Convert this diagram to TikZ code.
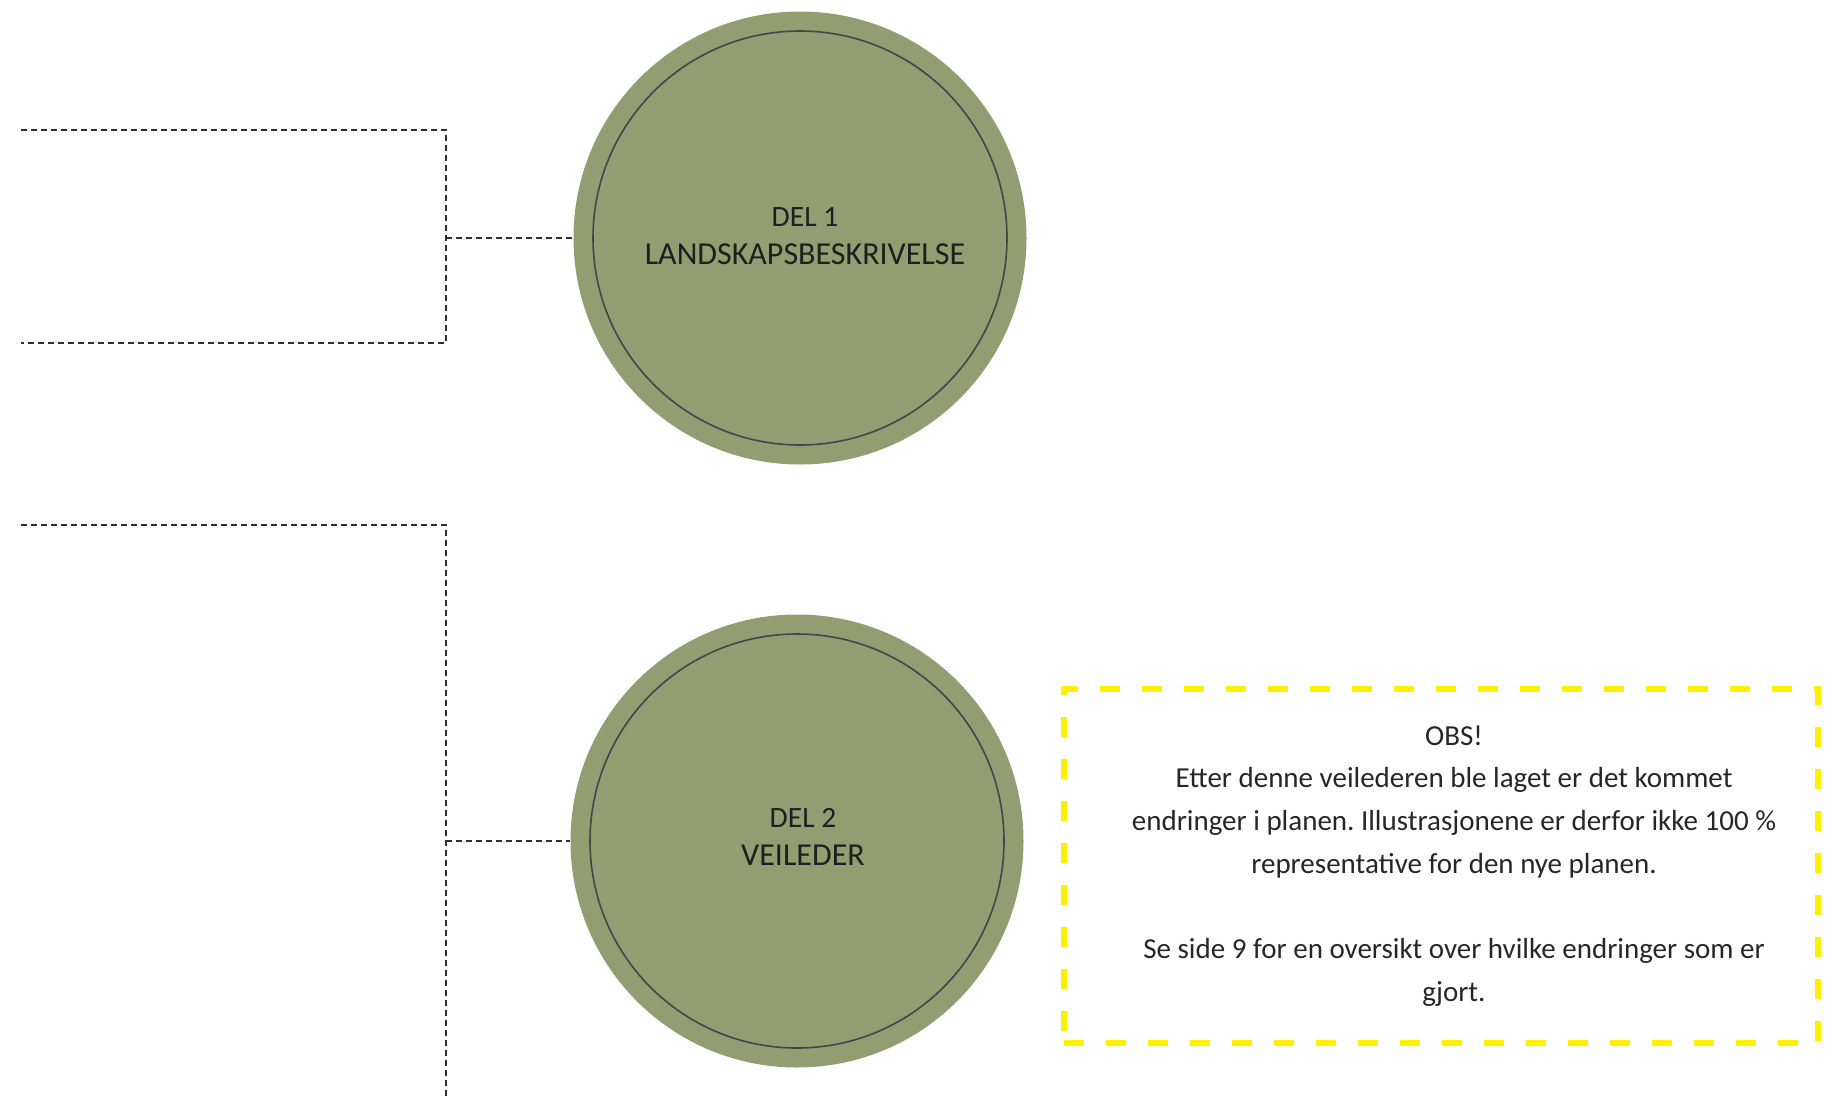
\documentclass[tikz,border=0pt]{standalone}
\usepackage{fontspec}
\setmainfont{Carlito}
\usetikzlibrary{positioning}

\definecolor{leafgreen}{HTML}{929E71}
\definecolor{ringgray}{HTML}{42464C}
\definecolor{guidegray}{HTML}{2E2E2E}
\definecolor{obsyellow}{RGB}{255,240,0}

\begin{document}
\frenchspacing
\begin{tikzpicture}[
    x=1pt, y=-1pt,
    disc/.style={circle, fill=leafgreen, minimum size=453pt, inner sep=0pt},
    ring/.style={circle, draw=ringgray, line width=1.6pt,
                 minimum size=414pt, inner sep=0pt},
    guide/.style={draw=guidegray, line width=1.2pt, dash pattern=on 6pt off 4pt},
    every node/.style={align=center}
]
\useasboundingbox (0,0) rectangle (1840,1098);

%-------------------------------
% 1) The two parts (circles)
%-------------------------------
\node[disc] (del1) at (800,238) {};
\node[ring] (del1ring) at (del1.center) {};
\node[font=\fontsize{32}{37.5}\selectfont, text=black!88] (del1txt) at (805,236)
     {{\fontsize{29.5}{37.5}\selectfont DEL 1}\\LANDSKAPSBESKRIVELSE};

\node[disc] (del2) at (797,841) {};
\node[ring] (del2ring) at (del2.center) {};
\node[font=\fontsize{32}{38}\selectfont, text=black!88] (del2txt) at (803,837)
     {{\fontsize{29.5}{38}\selectfont DEL 2}\\VEILEDER};

%-------------------------------
% 2) Dashed brackets on the left
%-------------------------------
\coordinate (topA) at (21,130);
\coordinate (topB) at (21,343);
\coordinate (joinA) at (446,238);
\draw[guide] (topA) -| (joinA) |- (topB);
\draw[guide] (joinA) -- (del1.west);

\coordinate (lowA) at (21,525);
\coordinate (lowEnd) at (446,1098);
\coordinate (joinB) at (446,841);
\draw[guide] (lowA) -| (lowEnd);
\draw[guide] (joinB) -- (del2.west);

%-------------------------------
% 3) OBS note (yellow dashed box)
%-------------------------------
\node[draw=obsyellow, line width=5.5pt, dash pattern=on 20pt off 22pt,
      minimum width=754pt, minimum height=354pt, inner sep=0pt] (obs) at (1441,866) {};
\node[font=\fontsize{29}{42.7}\selectfont, text=black!85] (obstxt) at (1454,866)
     {OBS!\\
      Etter denne veilederen ble laget er det kommet\\
      endringer i planen. Illustrasjonene er derfor ikke 100 \%\\
      representative for den nye planen.\\
      \mbox{}\\
      Se side 9 for en oversikt over hvilke endringer som er\\
      gjort.};

\end{tikzpicture}
\end{document}
